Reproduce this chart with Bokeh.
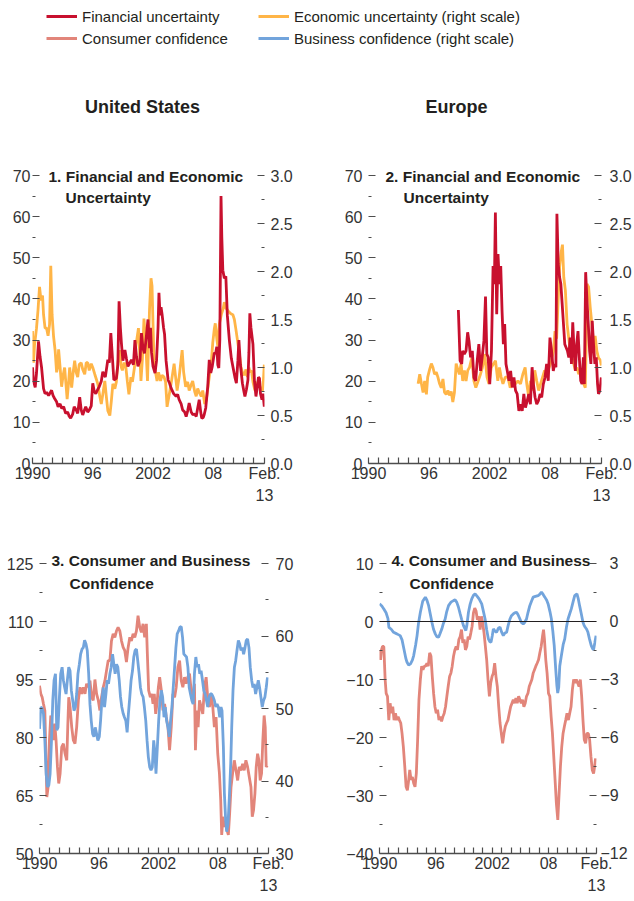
from bokeh.plotting import figure
from bokeh.models import Range1d, LinearAxis, FixedTicker, Span, Label, Legend, LegendItem
from bokeh.layouts import column, row
from bokeh.embed import file_html
from bokeh.resources import INLINE

# ---------------- colours / fonts ----------------
RED = "#C8102E"
ORANGE = "#FFB547"
SALMON = "#E2857A"
BLUE = "#72A4DC"
TEXT = "#231F20"
TICK = "#333333"
AXIS = "#4D4D4D"
SANS = "Liberation Sans"

# ---------------- axes ----------------
X_START, X_END = 1990, 2013.1
year_ticks = list(range(1990, 2013)) + [2013.1]
year_labels = {1990: "1990", 1996: "96", 2002: "2002", 2008: "08", 2013.1: "Feb.\n13"}

unc_left_ticks = [0, 10, 20, 30, 40, 50, 60, 70]
unc_left_minor = [5, 15, 25, 35, 45, 55, 65]
unc_right_ticks = [0.0, 0.5, 1.0, 1.5, 2.0, 2.5, 3.0]
unc_right_minor = [0.25, 0.75, 1.25, 1.75, 2.25, 2.75]

us_conf_left_ticks = [50, 65, 80, 95, 110, 125]
us_conf_left_minor = [57.5, 72.5, 87.5, 102.5, 117.5]
us_conf_right_ticks = [30, 40, 50, 60, 70]
us_conf_right_minor = [35, 45, 55, 65]

eu_conf_left_ticks = [-40, -30, -20, -10, 0, 10]
eu_conf_left_minor = [-35, -25, -15, -5, 5]
eu_conf_right_ticks = [-12, -9, -6, -3, 0, 3]
eu_conf_right_minor = [-10.5, -7.5, -4.5, -1.5, 1.5]

# ---------------- data (year, value) ----------------
us_financial = [
    (1990.00, 23.4), (1990.10, 20.0), (1990.27, 18.5), (1990.40, 22.0), (1990.60, 29.7),
    (1990.75, 26.0), (1990.90, 23.4), (1991.10, 18.2), (1991.25, 17.0), (1991.40, 17.3),
    (1991.60, 16.5), (1991.90, 17.8), (1992.05, 16.5), (1992.20, 15.8), (1992.40, 15.0),
    (1992.55, 13.8), (1992.75, 14.5), (1992.90, 13.4), (1993.10, 13.8), (1993.30, 12.2),
    (1993.50, 12.5), (1993.65, 11.5), (1993.80, 11.0), (1994.00, 12.0), (1994.15, 13.8),
    (1994.35, 13.0), (1994.50, 12.2), (1994.70, 16.1), (1994.85, 13.0), (1995.00, 11.8),
    (1995.15, 12.8), (1995.30, 13.8), (1995.50, 12.5), (1995.65, 13.0), (1995.85, 14.0),
    (1996.00, 19.5), (1996.15, 17.5), (1996.30, 17.0), (1996.50, 18.0), (1996.65, 18.7),
    (1996.85, 20.0), (1997.00, 22.3), (1997.25, 21.0), (1997.50, 25.2), (1997.65, 24.5),
    (1997.80, 31.7), (1997.95, 26.0), (1998.10, 20.3), (1998.35, 20.7), (1998.50, 24.0),
    (1998.62, 39.4), (1998.75, 33.0), (1998.85, 29.3), (1999.00, 25.0), (1999.20, 27.6),
    (1999.35, 25.5), (1999.50, 23.6), (1999.70, 24.5), (1999.85, 25.2), (2000.05, 24.0),
    (2000.20, 30.0), (2000.35, 26.0), (2000.50, 23.6), (2000.70, 25.0), (2000.85, 31.7),
    (2001.00, 28.0), (2001.15, 26.8), (2001.30, 30.0), (2001.50, 35.0), (2001.65, 28.0),
    (2001.75, 33.0), (2001.85, 27.0), (2002.00, 23.6), (2002.20, 22.0), (2002.35, 25.0),
    (2002.50, 33.0), (2002.59, 41.5), (2002.70, 36.0), (2002.80, 38.0), (2002.90, 36.3),
    (2003.05, 33.0), (2003.15, 31.4), (2003.30, 25.0), (2003.50, 20.3), (2003.65, 19.5),
    (2003.80, 18.3), (2004.05, 17.0), (2004.30, 16.3), (2004.45, 16.8), (2004.60, 15.5),
    (2004.80, 14.5), (2004.95, 13.0), (2005.15, 12.5), (2005.30, 11.4), (2005.45, 12.8),
    (2005.60, 14.7), (2005.80, 12.5), (2005.95, 11.9), (2006.15, 12.0), (2006.30, 11.4),
    (2006.45, 13.5), (2006.60, 15.5), (2006.75, 12.5), (2006.85, 11.0), (2007.00, 11.2),
    (2007.10, 11.9), (2007.25, 13.5), (2007.45, 18.7), (2007.60, 25.2), (2007.75, 22.0),
    (2007.90, 23.6), (2008.10, 26.8), (2008.25, 27.0), (2008.35, 28.4), (2008.45, 24.0),
    (2008.55, 23.2), (2008.65, 30.0), (2008.77, 65.0), (2008.85, 55.0), (2008.95, 47.0),
    (2009.10, 45.0), (2009.25, 45.5), (2009.40, 36.0), (2009.60, 30.0), (2009.80, 25.5),
    (2009.95, 23.6), (2010.15, 21.0), (2010.30, 19.5), (2010.45, 25.0), (2010.55, 30.0),
    (2010.70, 24.0), (2010.90, 19.5), (2011.05, 17.5), (2011.15, 16.3), (2011.30, 18.0),
    (2011.45, 20.3), (2011.55, 27.0), (2011.64, 36.5), (2011.75, 33.0), (2011.95, 29.0),
    (2012.10, 20.0), (2012.25, 16.3), (2012.40, 19.0), (2012.50, 21.0), (2012.60, 20.7),
    (2012.70, 17.0), (2012.85, 15.5), (2012.95, 17.0), (2013.08, 13.8),
]

us_economic = [
    (1990.00, 1.38), (1990.10, 1.05), (1990.20, 1.23), (1990.40, 1.41), (1990.55, 1.60),
    (1990.70, 1.84), (1990.85, 1.70), (1991.00, 1.75), (1991.10, 1.55), (1991.25, 1.41),
    (1991.40, 1.41), (1991.55, 1.33), (1991.70, 1.45), (1991.82, 2.06), (1991.95, 1.55),
    (1992.10, 1.32), (1992.25, 1.18), (1992.40, 0.95), (1992.50, 1.00), (1992.60, 1.19),
    (1992.75, 1.00), (1992.90, 0.80), (1993.05, 0.92), (1993.20, 1.00), (1993.45, 0.67),
    (1993.60, 0.85), (1993.70, 1.00), (1993.90, 0.79), (1994.05, 0.95), (1994.20, 1.07),
    (1994.35, 0.95), (1994.50, 0.90), (1994.65, 1.03), (1994.85, 1.05), (1995.00, 0.98),
    (1995.20, 0.93), (1995.35, 1.05), (1995.50, 1.05), (1995.65, 0.97), (1995.85, 1.04),
    (1996.00, 1.00), (1996.20, 0.93), (1996.35, 0.88), (1996.50, 0.83), (1996.70, 0.70),
    (1996.85, 0.62), (1997.00, 0.72), (1997.20, 0.86), (1997.35, 0.70), (1997.50, 0.55),
    (1997.70, 0.50), (1997.85, 0.65), (1998.00, 0.83), (1998.20, 0.78), (1998.35, 0.85),
    (1998.50, 1.05), (1998.70, 1.18), (1998.85, 1.00), (1998.95, 0.97), (1999.15, 1.05),
    (1999.30, 1.00), (1999.45, 0.85), (1999.60, 0.72), (1999.80, 0.90), (1999.95, 0.85),
    (2000.15, 1.00), (2000.30, 1.23), (2000.55, 1.41), (2000.70, 1.10), (2000.80, 0.86),
    (2000.95, 1.10), (2001.10, 1.51), (2001.30, 1.20), (2001.45, 0.86), (2001.65, 1.60),
    (2001.80, 1.93), (2001.90, 1.85), (2002.00, 1.45), (2002.10, 1.07), (2002.25, 0.95),
    (2002.40, 0.86), (2002.55, 0.95), (2002.75, 0.86), (2002.90, 0.92), (2003.10, 0.90),
    (2003.25, 0.85), (2003.40, 0.59), (2003.55, 0.68), (2003.75, 0.80), (2003.90, 0.90),
    (2004.10, 1.04), (2004.25, 0.90), (2004.40, 0.76), (2004.60, 0.90), (2004.90, 1.18),
    (2005.05, 0.95), (2005.25, 0.80), (2005.45, 0.85), (2005.60, 0.76), (2005.80, 0.82),
    (2005.95, 0.86), (2006.15, 0.75), (2006.30, 0.70), (2006.45, 0.78), (2006.60, 0.74),
    (2006.80, 0.70), (2006.95, 0.76), (2007.15, 0.62), (2007.30, 0.66), (2007.45, 0.78),
    (2007.60, 0.90), (2007.80, 1.05), (2007.95, 1.26), (2008.10, 1.40), (2008.20, 1.46),
    (2008.35, 1.30), (2008.45, 1.22), (2008.60, 1.45), (2008.80, 1.55), (2009.00, 1.62),
    (2009.10, 1.68), (2009.25, 1.62), (2009.40, 1.60), (2009.55, 1.58), (2009.75, 1.56),
    (2009.95, 1.55), (2010.10, 1.50), (2010.25, 1.40), (2010.40, 1.29), (2010.55, 1.18),
    (2010.75, 1.01), (2010.90, 0.95), (2011.10, 0.92), (2011.25, 0.98), (2011.40, 0.90),
    (2011.55, 1.00), (2011.65, 0.95), (2011.80, 0.97), (2011.95, 0.85), (2012.15, 0.76),
    (2012.30, 0.82), (2012.45, 0.85), (2012.60, 0.80), (2012.75, 0.78), (2012.90, 0.76),
    (2013.00, 0.88), (2013.08, 1.03),
]

eu_financial = [
    (1998.91, 37.3), (1999.08, 25.0), (1999.24, 24.2), (1999.34, 27.4), (1999.50, 26.6),
    (1999.67, 27.4), (1999.83, 31.9), (1999.96, 29.8), (2000.12, 25.8), (2000.29, 27.4),
    (2000.45, 20.9), (2000.62, 20.1), (2000.78, 25.0), (2000.94, 29.0), (2001.11, 22.5),
    (2001.27, 25.8), (2001.44, 29.8), (2001.60, 40.6), (2001.73, 26.6), (2001.86, 25.8),
    (2002.02, 19.3), (2002.19, 27.4), (2002.35, 48.0), (2002.48, 43.6), (2002.58, 61.0),
    (2002.71, 36.3), (2002.84, 50.9), (2002.98, 43.6), (2003.11, 48.0), (2003.24, 37.1),
    (2003.37, 29.0), (2003.50, 33.9), (2003.63, 24.2), (2003.76, 22.5), (2003.93, 20.1),
    (2004.09, 22.5), (2004.25, 18.5), (2004.42, 20.9), (2004.58, 17.7), (2004.74, 16.9),
    (2004.91, 12.8), (2005.07, 14.4), (2005.24, 12.8), (2005.40, 16.9), (2005.56, 13.6),
    (2005.73, 15.2), (2005.89, 16.9), (2006.05, 14.4), (2006.22, 23.4), (2006.35, 19.3),
    (2006.51, 16.1), (2006.68, 14.4), (2006.84, 15.2), (2007.01, 16.9), (2007.17, 16.1),
    (2007.33, 19.3), (2007.50, 20.9), (2007.66, 24.2), (2007.82, 20.1), (2007.99, 30.6),
    (2008.15, 27.4), (2008.32, 22.5), (2008.45, 24.2), (2008.58, 23.4), (2008.68, 60.7),
    (2008.81, 48.5), (2008.94, 45.3), (2009.07, 43.6), (2009.20, 38.8), (2009.33, 33.9),
    (2009.46, 29.0), (2009.59, 28.2), (2009.72, 27.4), (2009.86, 25.8), (2009.99, 30.6),
    (2010.12, 24.2), (2010.25, 34.3), (2010.38, 27.4), (2010.51, 22.5), (2010.64, 29.0),
    (2010.77, 32.2), (2010.90, 25.8), (2011.04, 20.1), (2011.17, 19.3), (2011.30, 25.8),
    (2011.40, 19.3), (2011.53, 46.5), (2011.66, 39.6), (2011.79, 33.9), (2011.92, 27.4),
    (2012.05, 24.2), (2012.18, 34.7), (2012.31, 29.0), (2012.44, 24.2), (2012.58, 25.8),
    (2012.71, 19.3), (2012.80, 16.9), (2012.94, 17.7), (2013.08, 20.9),
]

eu_economic = [
    (1994.92, 0.83), (1995.08, 0.93), (1995.25, 0.83), (1995.41, 0.74), (1995.57, 0.86),
    (1995.74, 0.72), (1995.87, 0.90), (1996.06, 0.98), (1996.23, 1.04), (1996.39, 1.00),
    (1996.55, 0.93), (1996.72, 0.95), (1996.88, 0.90), (1997.05, 0.83), (1997.21, 0.79),
    (1997.38, 0.88), (1997.54, 0.74), (1997.70, 0.72), (1997.87, 0.76), (1998.03, 0.71),
    (1998.20, 0.75), (1998.36, 0.64), (1998.52, 0.74), (1998.69, 1.04), (1998.85, 0.98),
    (1999.01, 0.93), (1999.18, 1.04), (1999.34, 0.86), (1999.51, 0.97), (1999.67, 0.86),
    (1999.84, 0.97), (2000.01, 1.00), (2000.24, 1.10), (2000.45, 0.86), (2000.64, 0.79),
    (2000.87, 0.86), (2001.10, 0.93), (2001.29, 1.00), (2001.52, 1.14), (2001.75, 0.90),
    (2001.94, 0.83), (2002.17, 1.00), (2002.40, 1.04), (2002.59, 1.07), (2002.82, 0.86),
    (2002.98, 1.00), (2003.15, 0.90), (2003.33, 0.83), (2003.56, 0.90), (2003.82, 0.90),
    (2004.05, 0.79), (2004.31, 0.86), (2004.57, 0.83), (2004.81, 0.86), (2005.07, 0.83),
    (2005.30, 0.93), (2005.53, 1.00), (2005.69, 0.83), (2005.89, 0.69), (2006.05, 0.86),
    (2006.28, 0.76), (2006.48, 0.97), (2006.68, 0.86), (2006.87, 0.76), (2007.06, 0.83),
    (2007.26, 0.90), (2007.46, 0.97), (2007.65, 0.93), (2007.91, 1.00), (2008.14, 1.07),
    (2008.33, 1.17), (2008.49, 1.38), (2008.65, 1.30), (2008.80, 1.70), (2008.95, 2.05),
    (2009.10, 2.20), (2009.23, 2.28), (2009.36, 1.94), (2009.52, 1.80), (2009.69, 1.45),
    (2009.85, 1.31), (2010.01, 1.17), (2010.18, 1.10), (2010.34, 1.04), (2010.51, 0.97),
    (2010.67, 1.00), (2010.84, 0.93), (2011.00, 0.98), (2011.16, 0.90), (2011.33, 0.83),
    (2011.49, 0.79), (2011.59, 1.30), (2011.66, 1.87), (2011.82, 1.84), (2011.98, 1.63),
    (2012.15, 1.45), (2012.31, 1.24), (2012.47, 1.33), (2012.64, 1.17), (2012.80, 1.10),
    (2012.97, 1.08), (2013.08, 1.02),
]

us_consumer = [
    (1990.00, 93.4), (1990.13, 91.3), (1990.27, 90.4), (1990.40, 88.7), (1990.54, 87.0),
    (1990.64, 75.8), (1990.74, 64.6), (1990.87, 67.2), (1991.00, 79.3), (1991.14, 85.7),
    (1991.27, 82.7), (1991.41, 79.3), (1991.54, 83.6), (1991.67, 79.3), (1991.81, 72.4),
    (1991.94, 68.1), (1992.08, 70.7), (1992.24, 77.5), (1992.41, 78.4), (1992.58, 75.8),
    (1992.75, 74.1), (1992.85, 82.7), (1992.95, 90.4), (1993.08, 87.9), (1993.25, 82.7),
    (1993.41, 79.3), (1993.58, 78.4), (1993.75, 82.7), (1993.92, 89.6), (1994.08, 93.0),
    (1994.25, 91.3), (1994.42, 93.0), (1994.59, 91.3), (1994.75, 93.9), (1994.92, 93.0),
    (1995.09, 94.7), (1995.26, 90.4), (1995.42, 89.6), (1995.59, 95.0), (1995.76, 91.3),
    (1995.93, 89.6), (1996.09, 87.0), (1996.26, 90.4), (1996.43, 93.0), (1996.60, 94.7),
    (1996.76, 97.3), (1996.93, 99.9), (1997.10, 99.9), (1997.26, 105.0), (1997.43, 106.8),
    (1997.60, 105.9), (1997.77, 107.6), (1997.93, 108.5), (1998.10, 107.6), (1998.27, 105.0),
    (1998.44, 103.3), (1998.60, 102.5), (1998.77, 99.5), (1998.94, 103.3), (1999.11, 105.9),
    (1999.27, 105.0), (1999.44, 106.8), (1999.61, 105.9), (1999.78, 107.6), (1999.94, 111.5),
    (2000.11, 108.5), (2000.28, 107.2), (2000.45, 109.4), (2000.61, 105.9), (2000.78, 109.4),
    (2000.88, 101.6), (2001.01, 92.2), (2001.18, 90.4), (2001.32, 91.3), (2001.45, 88.7),
    (2001.58, 91.3), (2001.72, 86.1), (2001.85, 88.7), (2001.99, 93.0), (2002.12, 95.6),
    (2002.29, 92.2), (2002.45, 87.0), (2002.62, 88.7), (2002.79, 85.3), (2002.96, 82.7),
    (2003.12, 76.7), (2003.29, 82.7), (2003.46, 91.3), (2003.63, 90.4), (2003.79, 93.0),
    (2003.96, 98.2), (2004.13, 99.9), (2004.30, 94.7), (2004.46, 93.0), (2004.63, 95.6),
    (2004.80, 93.9), (2004.96, 95.6), (2005.13, 96.5), (2005.30, 92.2), (2005.47, 89.6),
    (2005.63, 93.9), (2005.73, 76.7), (2005.87, 87.0), (2006.00, 82.7), (2006.14, 89.6),
    (2006.30, 87.9), (2006.47, 86.1), (2006.64, 93.0), (2006.81, 95.6), (2006.97, 90.4),
    (2007.14, 87.9), (2007.31, 91.3), (2007.48, 87.9), (2007.64, 82.7), (2007.81, 85.3),
    (2007.98, 75.8), (2008.15, 70.7), (2008.28, 63.8), (2008.38, 54.8), (2008.51, 59.5),
    (2008.65, 56.9), (2008.78, 57.8), (2008.92, 56.0), (2009.05, 54.8), (2009.18, 60.3),
    (2009.32, 67.2), (2009.48, 70.7), (2009.65, 74.1), (2009.82, 71.5), (2009.99, 68.9),
    (2010.15, 72.4), (2010.32, 71.5), (2010.49, 73.2), (2010.65, 71.5), (2010.82, 74.1),
    (2010.99, 72.4), (2011.16, 69.8), (2011.33, 67.2), (2011.46, 59.5), (2011.59, 61.2),
    (2011.73, 65.5), (2011.86, 72.4), (2012.00, 75.8), (2012.13, 74.1), (2012.26, 68.9),
    (2012.40, 70.7), (2012.53, 79.3), (2012.66, 85.7), (2012.77, 82.7), (2012.87, 72.4),
    (2013.00, 72.8),
]

us_business = [
    (1990.00, 47.2), (1990.13, 50.2), (1990.27, 50.0), (1990.40, 49.3), (1990.54, 45.6),
    (1990.67, 41.0), (1990.80, 39.2), (1990.94, 39.4), (1991.07, 41.0), (1991.21, 45.6),
    (1991.34, 51.1), (1991.47, 53.9), (1991.61, 54.8), (1991.74, 47.0), (1991.87, 47.4),
    (1992.01, 51.6), (1992.14, 54.8), (1992.28, 55.7), (1992.41, 53.9), (1992.54, 52.9),
    (1992.68, 52.0), (1992.81, 53.9), (1992.95, 55.7), (1993.08, 55.2), (1993.21, 52.5),
    (1993.35, 51.1), (1993.48, 49.7), (1993.62, 50.2), (1993.75, 52.0), (1993.88, 54.8),
    (1994.02, 56.1), (1994.15, 57.5), (1994.29, 58.2), (1994.42, 58.4), (1994.55, 59.4),
    (1994.69, 58.9), (1994.82, 58.0), (1994.96, 54.8), (1995.09, 50.6), (1995.22, 48.3),
    (1995.36, 46.5), (1995.49, 46.1), (1995.62, 47.4), (1995.76, 46.5), (1995.89, 45.6),
    (1996.03, 46.1), (1996.16, 48.3), (1996.29, 51.1), (1996.43, 52.9), (1996.56, 50.2),
    (1996.70, 52.0), (1996.83, 53.9), (1996.96, 53.4), (1997.10, 54.8), (1997.23, 55.7),
    (1997.37, 57.5), (1997.50, 56.1), (1997.63, 54.8), (1997.77, 56.1), (1997.90, 55.7),
    (1998.04, 53.9), (1998.17, 51.6), (1998.30, 50.2), (1998.44, 49.3), (1998.57, 48.8),
    (1998.71, 48.3), (1998.84, 46.7), (1998.97, 49.3), (1999.11, 51.6), (1999.24, 53.9),
    (1999.38, 55.2), (1999.51, 57.1), (1999.64, 58.0), (1999.78, 58.2), (1999.91, 56.6),
    (2000.05, 54.8), (2000.18, 52.9), (2000.31, 52.0), (2000.45, 51.6), (2000.58, 50.2),
    (2000.72, 48.3), (2000.85, 45.6), (2000.98, 43.3), (2001.12, 41.9), (2001.25, 41.5),
    (2001.38, 41.9), (2001.52, 45.6), (2001.65, 43.8), (2001.75, 41.0), (2001.89, 44.7),
    (2002.02, 48.3), (2002.15, 51.1), (2002.29, 52.5), (2002.42, 51.6), (2002.56, 48.8),
    (2002.69, 50.2), (2002.82, 48.3), (2002.96, 47.4), (2003.09, 46.1), (2003.22, 48.3),
    (2003.36, 50.2), (2003.49, 52.9), (2003.63, 55.7), (2003.76, 58.4), (2003.89, 60.3),
    (2004.03, 60.7), (2004.16, 61.2), (2004.30, 61.3), (2004.43, 59.8), (2004.56, 57.5),
    (2004.70, 57.3), (2004.83, 57.1), (2004.97, 55.7), (2005.10, 52.9), (2005.23, 52.0),
    (2005.37, 51.1), (2005.50, 50.6), (2005.63, 54.8), (2005.77, 57.1), (2005.90, 55.7),
    (2006.04, 56.1), (2006.17, 54.8), (2006.30, 55.2), (2006.44, 53.9), (2006.57, 52.5),
    (2006.71, 52.0), (2006.84, 51.1), (2006.97, 50.2), (2007.11, 51.6), (2007.24, 52.0),
    (2007.37, 52.0), (2007.51, 51.6), (2007.64, 51.1), (2007.78, 50.2), (2007.91, 50.6),
    (2008.04, 50.2), (2008.18, 48.8), (2008.31, 50.2), (2008.41, 49.7), (2008.55, 44.7),
    (2008.65, 38.3), (2008.78, 34.6), (2008.88, 33.0), (2009.02, 34.1), (2009.15, 37.8),
    (2009.29, 42.4), (2009.39, 47.4), (2009.52, 52.5), (2009.66, 55.7), (2009.79, 56.6),
    (2009.92, 58.0), (2010.06, 59.4), (2010.19, 58.9), (2010.33, 58.0), (2010.46, 58.4),
    (2010.59, 57.5), (2010.73, 58.4), (2010.86, 59.4), (2010.99, 59.6), (2011.13, 58.4),
    (2011.26, 55.7), (2011.40, 53.9), (2011.53, 52.9), (2011.66, 53.4), (2011.80, 52.0),
    (2011.93, 52.9), (2012.07, 53.9), (2012.20, 52.9), (2012.33, 51.6), (2012.47, 50.2),
    (2012.60, 51.1), (2012.74, 51.6), (2012.87, 52.9), (2013.00, 54.3),
]

eu_consumer = [
    (1990.00, -4.9), (1990.11, -6.6), (1990.21, -4.9), (1990.32, -4.3), (1990.46, -4.3),
    (1990.60, -10.0), (1990.71, -12.4), (1990.85, -12.9), (1990.99, -17.0), (1991.13, -14.1),
    (1991.27, -15.8), (1991.41, -14.7), (1991.55, -17.0), (1991.70, -15.8), (1991.84, -17.0),
    (1991.98, -16.4), (1992.12, -17.0), (1992.26, -17.5), (1992.40, -19.3), (1992.54, -21.6),
    (1992.69, -25.0), (1992.83, -28.5), (1992.97, -29.1), (1993.11, -27.3), (1993.22, -25.6),
    (1993.36, -27.3), (1993.50, -26.8), (1993.64, -27.9), (1993.78, -28.5), (1993.92, -26.2),
    (1994.06, -20.4), (1994.20, -13.5), (1994.35, -10.0), (1994.49, -7.7), (1994.63, -8.3),
    (1994.77, -7.7), (1994.91, -7.7), (1995.05, -7.2), (1995.19, -7.7), (1995.34, -5.4),
    (1995.48, -6.0), (1995.62, -9.5), (1995.76, -12.4), (1995.90, -14.7), (1996.04, -15.8),
    (1996.18, -15.2), (1996.33, -17.0), (1996.47, -16.4), (1996.61, -17.2), (1996.75, -16.4),
    (1996.89, -15.8), (1997.03, -14.7), (1997.17, -12.9), (1997.31, -11.2), (1997.46, -9.5),
    (1997.60, -8.9), (1997.74, -7.7), (1997.88, -6.0), (1998.02, -4.9), (1998.16, -4.3),
    (1998.30, -4.9), (1998.45, -3.1), (1998.59, -2.6), (1998.73, -1.4), (1998.87, -3.7),
    (1999.01, -3.1), (1999.15, -4.9), (1999.29, -4.3), (1999.43, -2.6), (1999.58, -3.1),
    (1999.72, -2.0), (1999.86, -0.8), (2000.00, 1.5), (2000.14, 2.3), (2000.28, 1.8),
    (2000.42, 0.3), (2000.57, 0.9), (2000.71, -1.4), (2000.85, 0.9), (2000.99, -0.3),
    (2001.13, -2.0), (2001.27, -4.3), (2001.41, -6.6), (2001.55, -10.0), (2001.70, -12.9),
    (2001.84, -10.6), (2001.98, -9.5), (2002.12, -8.9), (2002.26, -7.2), (2002.40, -9.5),
    (2002.54, -11.2), (2002.69, -14.7), (2002.83, -17.5), (2002.97, -19.3), (2003.11, -21.0),
    (2003.25, -19.3), (2003.39, -18.1), (2003.53, -17.5), (2003.67, -17.0), (2003.82, -15.8),
    (2003.96, -14.7), (2004.10, -14.1), (2004.24, -13.5), (2004.38, -14.1), (2004.52, -13.2),
    (2004.66, -14.1), (2004.81, -12.9), (2004.95, -13.5), (2005.09, -14.1), (2005.23, -13.5),
    (2005.37, -14.7), (2005.51, -14.1), (2005.65, -12.9), (2005.80, -12.4), (2005.94, -11.2),
    (2006.08, -10.6), (2006.22, -10.0), (2006.36, -8.9), (2006.50, -8.3), (2006.64, -7.7),
    (2006.78, -7.2), (2006.93, -6.6), (2007.07, -5.4), (2007.21, -4.3), (2007.35, -2.6),
    (2007.46, -1.4), (2007.56, -3.1), (2007.70, -6.6), (2007.84, -8.9), (2007.99, -12.4),
    (2008.13, -12.9), (2008.27, -16.4), (2008.41, -19.3), (2008.55, -23.3), (2008.69, -27.3),
    (2008.83, -31.4), (2008.98, -34.2), (2009.12, -29.6), (2009.26, -25.0), (2009.40, -21.6),
    (2009.54, -19.3), (2009.68, -18.1), (2009.82, -17.0), (2009.96, -15.8), (2010.11, -17.0),
    (2010.25, -15.8), (2010.39, -14.7), (2010.53, -11.8), (2010.67, -10.0), (2010.81, -10.6),
    (2010.95, -10.0), (2011.10, -10.6), (2011.24, -11.2), (2011.38, -10.0), (2011.52, -12.9),
    (2011.66, -17.0), (2011.80, -20.4), (2011.94, -21.0), (2012.08, -19.3), (2012.23, -19.3),
    (2012.37, -20.4), (2012.51, -23.3), (2012.65, -25.6), (2012.79, -26.2), (2012.90, -25.0),
    (2013.00, -23.6),
]

eu_business = [
    (1990.00, 0.91), (1990.25, 0.80), (1990.46, 0.65), (1990.70, 0.45), (1990.90, 0.15),
    (1991.00, -0.30), (1991.25, -0.40), (1991.50, -0.56), (1991.85, -0.64), (1992.20, -0.73),
    (1992.40, -0.95), (1992.60, -1.42), (1992.80, -1.90), (1992.93, -2.11), (1993.10, -2.25),
    (1993.30, -2.19), (1993.50, -2.00), (1993.64, -1.76), (1993.85, -1.20), (1994.00, -0.73),
    (1994.15, -0.10), (1994.35, 0.48), (1994.60, 1.05), (1994.88, 1.26), (1995.05, 1.10),
    (1995.23, 0.82), (1995.40, 0.40), (1995.58, -0.04), (1995.75, -0.40), (1995.94, -0.64),
    (1996.10, -0.78), (1996.29, -0.81), (1996.45, -0.62), (1996.64, -0.38), (1996.80, -0.10),
    (1996.99, 0.13), (1997.15, 0.50), (1997.35, 0.82), (1997.60, 1.00), (1997.88, 1.08),
    (1998.05, 1.12), (1998.23, 0.99), (1998.40, 0.75), (1998.59, 0.39), (1998.75, 0.10),
    (1998.94, -0.21), (1999.19, -0.47), (1999.30, -0.20), (1999.47, 0.48), (1999.65, 0.90),
    (1999.82, 1.17), (2000.00, 1.35), (2000.18, 1.43), (2000.40, 1.30), (2000.60, 1.17),
    (2000.88, 0.91), (2001.05, 0.55), (2001.24, 0.13), (2001.40, -0.40), (2001.59, -0.90),
    (2001.75, -1.05), (2001.87, -1.07), (2002.00, -0.75), (2002.12, -0.38), (2002.30, -0.50),
    (2002.47, -0.56), (2002.65, -0.35), (2002.83, -0.30), (2003.00, -0.55), (2003.18, -0.73),
    (2003.35, -0.60), (2003.53, -0.56), (2003.70, -0.20), (2003.89, 0.13), (2004.05, 0.30),
    (2004.24, 0.39), (2004.40, 0.45), (2004.59, 0.48), (2004.75, 0.35), (2004.95, 0.13),
    (2005.10, -0.05), (2005.30, -0.13), (2005.45, -0.05), (2005.65, 0.13), (2005.80, 0.45),
    (2006.00, 0.82), (2006.18, 1.05), (2006.36, 1.26), (2006.60, 1.30), (2006.89, 1.34),
    (2007.05, 1.40), (2007.24, 1.52), (2007.42, 1.40), (2007.60, 1.26), (2007.80, 1.10),
    (2007.95, 0.91), (2008.15, 0.50), (2008.30, 0.13), (2008.45, -0.50), (2008.60, -1.25),
    (2008.75, -2.40), (2008.88, -3.30), (2008.97, -3.70), (2009.08, -3.40), (2009.19, -2.30),
    (2009.35, -1.80), (2009.55, -1.20), (2009.72, -0.90), (2009.90, -0.30), (2010.07, 0.13),
    (2010.25, 0.40), (2010.42, 0.65), (2010.60, 1.00), (2010.78, 1.34), (2011.02, 1.43),
    (2011.15, 1.20), (2011.30, 0.82), (2011.48, 0.40), (2011.66, -0.04), (2011.78, -0.20),
    (2011.90, -0.30), (2012.05, -0.40), (2012.19, -0.56), (2012.35, -0.90), (2012.54, -1.25),
    (2012.70, -1.42), (2012.79, -1.45), (2012.92, -1.10), (2013.05, -0.73),
]


def minus(v):
    return str(v).replace("-", "\u2212")


TICK_FONT_SIZE = "16px"


def style_yaxis(ax, standoff):
    ax.axis_line_color = None
    ax.major_tick_in = 7
    ax.major_tick_out = 0
    ax.minor_tick_in = 3
    ax.minor_tick_out = 0
    ax.major_tick_line_color = AXIS
    ax.major_tick_line_width = 1.2
    ax.minor_tick_line_color = AXIS
    ax.minor_tick_line_width = 1.2
    ax.major_label_standoff = standoff
    ax.major_label_text_font = SANS
    ax.major_label_text_font_size = TICK_FONT_SIZE
    ax.major_label_text_color = TICK


PAD = 12  # extra frame height above the top tick, so the panel titles are inside the frame


def make_panel(width, height, bl, br, bt, bb, lrange, lticks, lminor, llabels, lstand,
               rrange, rticks, rminor, rlabels, rstand, lines,
               title1, title2, tx1, tx2, ty1, ty2, zero=False):
    fh = height - bt - bb          # full frame height (incl. PAD)
    core = fh - PAD                # height spanned by the tick range
    grow = fh / core
    lo, hi = lrange
    rlo, rhi = rrange
    p = figure(width=width, height=height, x_range=Range1d(X_START, X_END),
               y_range=Range1d(lo, lo + (hi - lo) * grow), x_axis_type=None, y_axis_type=None,
               output_backend="svg", toolbar_location=None,
               min_border_left=bl, min_border_right=br, min_border_top=bt,
               min_border_bottom=bb, outline_line_color=None,
               background_fill_color="white", border_fill_color="white")
    p.extra_y_ranges = {"right": Range1d(rlo, rlo + (rhi - rlo) * grow)}

    xa = LinearAxis(ticker=FixedTicker(ticks=year_ticks),
                    major_label_overrides={t: year_labels.get(t, "") for t in year_ticks})
    xa.axis_line_color = AXIS
    xa.axis_line_width = 1.5
    xa.major_tick_in = 6
    xa.major_tick_out = 0
    xa.major_tick_line_color = AXIS
    xa.major_tick_line_width = 1.2
    xa.minor_tick_line_color = None
    xa.major_label_standoff = 1
    xa.major_label_text_font = SANS
    xa.major_label_text_font_size = TICK_FONT_SIZE
    xa.major_label_text_line_height = 1.35
    xa.major_label_text_color = TICK
    p.add_layout(xa, "below")

    ya = LinearAxis(ticker=FixedTicker(ticks=lticks, minor_ticks=lminor),
                    major_label_overrides=llabels)
    style_yaxis(ya, lstand)
    p.add_layout(ya, "left")

    yr = LinearAxis(y_range_name="right",
                    ticker=FixedTicker(ticks=rticks, minor_ticks=rminor),
                    major_label_overrides=rlabels)
    style_yaxis(yr, rstand)
    p.add_layout(yr, "right")

    if zero:
        p.add_layout(Span(location=0, dimension="width", line_color=TEXT, line_width=1.2))

    for data, color, rng in lines:
        kw = {"y_range_name": "right"} if rng == "right" else {}
        p.line([d[0] for d in data], [d[1] for d in data], line_color=color,
               line_width=2.8, **kw)

    for txt, tx, ty in ((title1, tx1, core + ty1), (title2, tx2, core + ty2)):
        p.add_layout(Label(x=tx, y=ty, x_units="screen", y_units="screen", text=txt,
                           text_font=SANS, text_font_style="bold",
                           text_font_size="15.5px", text_color=TEXT,
                           text_baseline="middle", text_align="left"))
    return p


unc_left_labels = {v: str(v) for v in unc_left_ticks}
unc_right_labels = {v: f"{v:.1f}" for v in unc_right_ticks}

# row 1: page y 140..515, frame (tick span) 175..463
p1 = make_panel(320, 375, 32, 56, 163 - 140, 52, (0, 70), unc_left_ticks, unc_left_minor,
                unc_left_labels, 2, (0, 3), unc_right_ticks, unc_right_minor,
                unc_right_labels, 6,
                [(us_economic, ORANGE, "right"), (us_financial, RED, "left")],
                "1. Financial and Economic", "Uncertainty", 16, 33, -1, -22)

p2 = make_panel(314, 375, 48, 32, 163 - 140, 52, (0, 70), unc_left_ticks, unc_left_minor,
                unc_left_labels, 6, (0, 3), unc_right_ticks, unc_right_minor,
                unc_right_labels, 8,
                [(eu_economic, ORANGE, "right"), (eu_financial, RED, "left")],
                "2. Financial and Economic", "Uncertainty", 17, 35, -1, -22)

# row 2: page y 515..901, frame (tick span) 563..853
p3 = make_panel(320, 386, 39, 52, 551 - 515, 48, (50, 125), us_conf_left_ticks,
                us_conf_left_minor, {v: str(v) for v in us_conf_left_ticks}, 6,
                (30, 70), us_conf_right_ticks, us_conf_right_minor,
                {v: str(v) for v in us_conf_right_ticks}, 7,
                [(us_consumer, SALMON, "left"), (us_business, BLUE, "right")],
                "3. Consumer and Business", "Confidence", 12, 30, 3, -20)

p4 = make_panel(314, 386, 59, 38, 551 - 515, 48, (-40, 10), eu_conf_left_ticks,
                eu_conf_left_minor, {v: minus(v) for v in eu_conf_left_ticks}, 6,
                (-12, 3), eu_conf_right_ticks, eu_conf_right_minor,
                {v: (minus(v) if v < 0 else "\u2007" + str(v)) for v in eu_conf_right_ticks}, 4,
                [(eu_consumer, SALMON, "left"), (eu_business, BLUE, "right")],
                "4. Consumer and Business", "Confidence", 12, 30, 3, -20, zero=True)

# ---------------- header: legend + country titles ----------------
HEADER_H = 140
header = figure(width=634, height=HEADER_H, x_range=Range1d(0, 634),
                y_range=Range1d(0, HEADER_H), x_axis_type=None, y_axis_type=None,
                output_backend="svg", toolbar_location=None, min_border=0,
                outline_line_color=None, background_fill_color="white",
                border_fill_color="white")
nan = float("nan")
r_fin = header.line(x=[nan], y=[nan], line_color=RED, line_width=3)
r_con = header.line(x=[nan], y=[nan], line_color=SALMON, line_width=3)
r_eco = header.line(x=[nan], y=[nan], line_color=ORANGE, line_width=3)
r_bus = header.line(x=[nan], y=[nan], line_color=BLUE, line_width=3)


def make_legend(items, x):
    # rows centred at page y 16 and 38; item height 20, spacing 2 -> top at 6, height 42
    return Legend(items=[LegendItem(label=l, renderers=[r]) for l, r in items],
                  location=(x, HEADER_H - 48), orientation="vertical", glyph_width=31,
                  glyph_height=20, label_height=20, label_standoff=5, spacing=2,
                  padding=0, margin=0, border_line_color=None, background_fill_alpha=0,
                  label_text_font=SANS, label_text_font_size="15px",
                  label_text_color=TEXT)


header.add_layout(make_legend([("Financial uncertainty", r_fin),
                               ("Consumer confidence", r_con)], 46))
header.add_layout(make_legend([("Economic uncertainty (right scale)", r_eco),
                               ("Business confidence (right scale)", r_bus)], 258))
for txt, cx in (("United States", 142), ("Europe", 456)):
    header.add_layout(Label(x=cx, y=HEADER_H - 106.5, x_units="screen", y_units="screen",
                            text=txt, text_font=SANS, text_font_style="bold",
                            text_font_size="18px", text_color=TEXT, text_align="center",
                            text_baseline="middle"))

layout = column(header, row(p1, p2), row(p3, p4))
open("out.html", "w").write(file_html(layout, INLINE))
